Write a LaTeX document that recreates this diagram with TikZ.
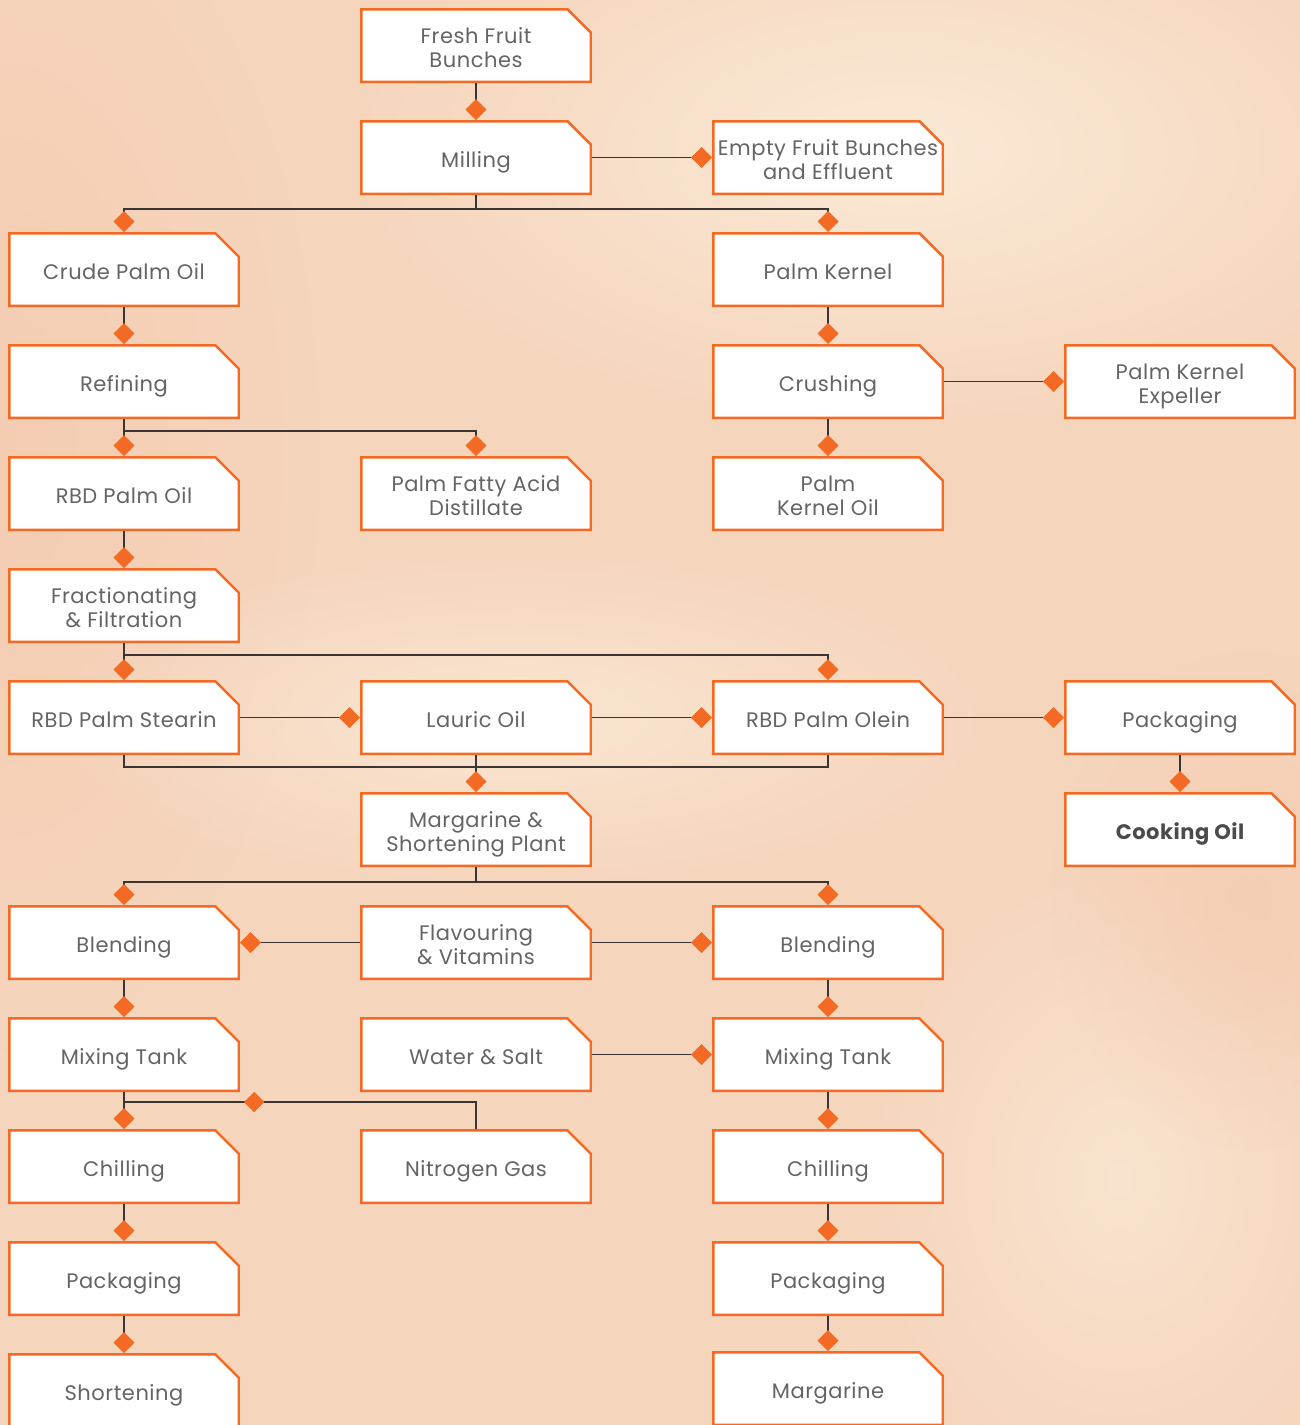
\documentclass[tikz,border=0pt]{standalone}
\usepackage{fontspec}
\setmainfont{Poppins}[LetterSpace=2.5]
\usepackage{tikz}
\usetikzlibrary{shapes.geometric, arrows.meta, positioning, calc, fadings}
\definecolor{brandorange}{HTML}{F26A24}
\definecolor{wiregray}{HTML}{3A3533}
\definecolor{labelgray}{HTML}{646464}
\definecolor{bgpeach}{HTML}{F6D5BD}
\definecolor{bglight}{HTML}{FBEAD6}
\definecolor{bgdeep}{HTML}{F3C9AE}
\tikzfading[name=softglow, inner color=transparent!0, outer color=transparent!100]

\begin{document}
\begin{tikzpicture}[x=1pt, y=1pt,
    node distance=37pt and 120pt,
    stage/.style={rectangle, minimum width=232pt, minimum height=75pt,
      inner sep=0pt, outer sep=0pt, align=center, text=labelgray,
      text height=22pt, text depth=2.5pt,
      font=\fontsize{21}{24}\selectfont,
      path picture={
        \path[clip] (path picture bounding box.south west) -- (path picture bounding box.north west)
          -- ([xshift=-24pt]path picture bounding box.north east)
          -- ([yshift=-24pt]path picture bounding box.north east)
          -- (path picture bounding box.south east) -- cycle;
        \fill[white] (path picture bounding box.south west) rectangle (path picture bounding box.north east);
        \draw[brandorange, line width=5pt] (path picture bounding box.south west) -- (path picture bounding box.north west)
          -- ([xshift=-24pt]path picture bounding box.north east)
          -- ([yshift=-24pt]path picture bounding box.north east)
          -- (path picture bounding box.south east) -- cycle;
      }},
    twoline/.style={text height=46pt, text depth=2.5pt},
    wire/.style={draw=wiregray, line width=1.3pt},
    link/.style={wire, -{Diamond[length=21pt, width=21pt, color=brandorange, fill=brandorange]}},
    joint/.style={diamond, aspect=1, fill=brandorange, inner sep=0pt, minimum size=21pt}]
    % backdrop
    \useasboundingbox (0,0) rectangle (1300,-1425);
    \fill[bgpeach] (0,0) rectangle (1300,-1425);
    \fill[bgdeep, path fading=softglow, opacity=0.7] (0,-450) ellipse (320 and 600);
    \fill[bglight, path fading=softglow] (900,-150) ellipse (560 and 280);
    \fill[bglight, path fading=softglow, opacity=0.8] (520,-720) ellipse (480 and 170);
    \fill[bglight, path fading=softglow, opacity=0.7] (1120,-1180) ellipse (260 and 320);
    \fill[bgdeep, path fading=softglow, opacity=0.6] (1250,-900) ellipse (200 and 250);

    % milling stage
    \node[stage, twoline] (ffb) at (476,-45.5) {Fresh Fruit\\Bunches};
    \node[stage, below=of ffb] (milling) {Milling};
    \node[stage, twoline, right=of milling] (efb) {Empty Fruit Bunches\\and Effluent};
    \node[stage] (cpo) at (124,-269.5) {Crude Palm Oil};
    \node[stage] (kernel) at (828,-269.5) {Palm Kernel};

    % kernel line
    \node[stage, below=of kernel] (crushing) {Crushing};
    \node[stage, twoline, right=of crushing] (expeller) {Palm Kernel\\Expeller};
    \node[stage, twoline, below=of crushing] (pko) {Palm\\Kernel Oil};

    % refinery line
    \node[stage, below=of cpo] (refining) {Refining};
    \node[stage, below=of refining] (rbdoil) {RBD Palm Oil};
    \node[stage, twoline, right=of rbdoil] (pfad) {Palm Fatty Acid\\Distillate};
    \node[stage, twoline, below=of rbdoil] (fraction) {Fractionating\\\& Filtration};
    \node[stage, below=of fraction] (stearin) {RBD Palm Stearin};
    \node[stage, right=of stearin] (lauric) {Lauric Oil};
    \node[stage, right=of lauric] (olein) {RBD Palm Olein};
    \node[stage, right=of olein] (oilpack) {Packaging};
    \node[stage, below=of oilpack, text=labelgray!75!black, font=\fontsize{21}{24}\selectfont\bfseries] (cooking) {Cooking Oil};

    % margarine & shortening plant
    \node[stage, twoline, below=of lauric] (plant) {Margarine \&\\Shortening Plant};
    \node[stage, twoline, below=38pt of plant] (flavour) {Flavouring\\\& Vitamins};
    \node[stage, left=of flavour] (blendL) {Blending};
    \node[stage, right=of flavour] (blendR) {Blending};
    \node[stage, below=of blendL] (mixL) {Mixing Tank};
    \node[stage, below=of flavour] (water) {Water \& Salt};
    \node[stage, below=of blendR] (mixR) {Mixing Tank};
    \node[stage, below=of mixL] (chillL) {Chilling};
    \node[stage, below=of water] (nitrogen) {Nitrogen Gas};
    \node[stage, below=of mixR] (chillR) {Chilling};
    \node[stage, below=of chillL] (packL) {Packaging};
    \node[stage, below=of chillR] (packR) {Packaging};
    \node[stage, below=of packL] (shortening) {Shortening};
    \node[stage, below=35pt of packR] (margarine) {Margarine};

    % connectors
    \draw[link] (ffb) -- (milling);
    \draw[link] (milling) -- (efb);
    \draw[link] (milling.south) -- ++(0,-14) -| (cpo.north);
    \draw[link] (milling.south) -- ++(0,-14) -| (kernel.north);
    \draw[link] (kernel) -- (crushing);
    \draw[link] (crushing) -- (expeller);
    \draw[link] (crushing) -- (pko);
    \draw[link] (cpo) -- (refining);
    \draw[link] (refining) -- (rbdoil);
    \draw[link] (refining.south) -- ++(0,-12) -| (pfad.north);
    \draw[link] (rbdoil) -- (fraction);
    \draw[link] (fraction) -- (stearin);
    \draw[link] (fraction.south) -- ++(0,-12) -| (olein.north);
    \draw[link] (stearin) -- (lauric);
    \draw[link] (lauric) -- (olein);
    \draw[link] (olein) -- (oilpack);
    \draw[link] (oilpack) -- (cooking);
    \coordinate (oilbus) at ($(lauric.south)+(0,-12)$);
    \draw[wire] (stearin.south) |- (oilbus) -| (olein.south);
    \draw[link] (lauric) -- (plant);
    \draw[link] (plant.south) -- ++(0,-15) -| (blendL.north);
    \draw[link] (plant.south) -- ++(0,-15) -| (blendR.north);
    \draw[link] (flavour) -- (blendL);
    \draw[link] (flavour) -- (blendR);
    \draw[link] (blendL) -- (mixL);
    \draw[link] (blendR) -- (mixR);
    \draw[link] (water) -- (mixR);
    \draw[link] (mixL) -- (chillL);
    \draw[wire] (nitrogen.north) |- node[joint, pos=0.815] (gasjoint) {} ($(mixL.south)+(0,-10)$);
    \draw[link] (mixR) -- (chillR);
    \draw[link] (chillL) -- (packL);
    \draw[link] (chillR) -- (packR);
    \draw[link] (packL) -- (shortening);
    \draw[link] (packR) -- (margarine);
\end{tikzpicture}
\end{document}
